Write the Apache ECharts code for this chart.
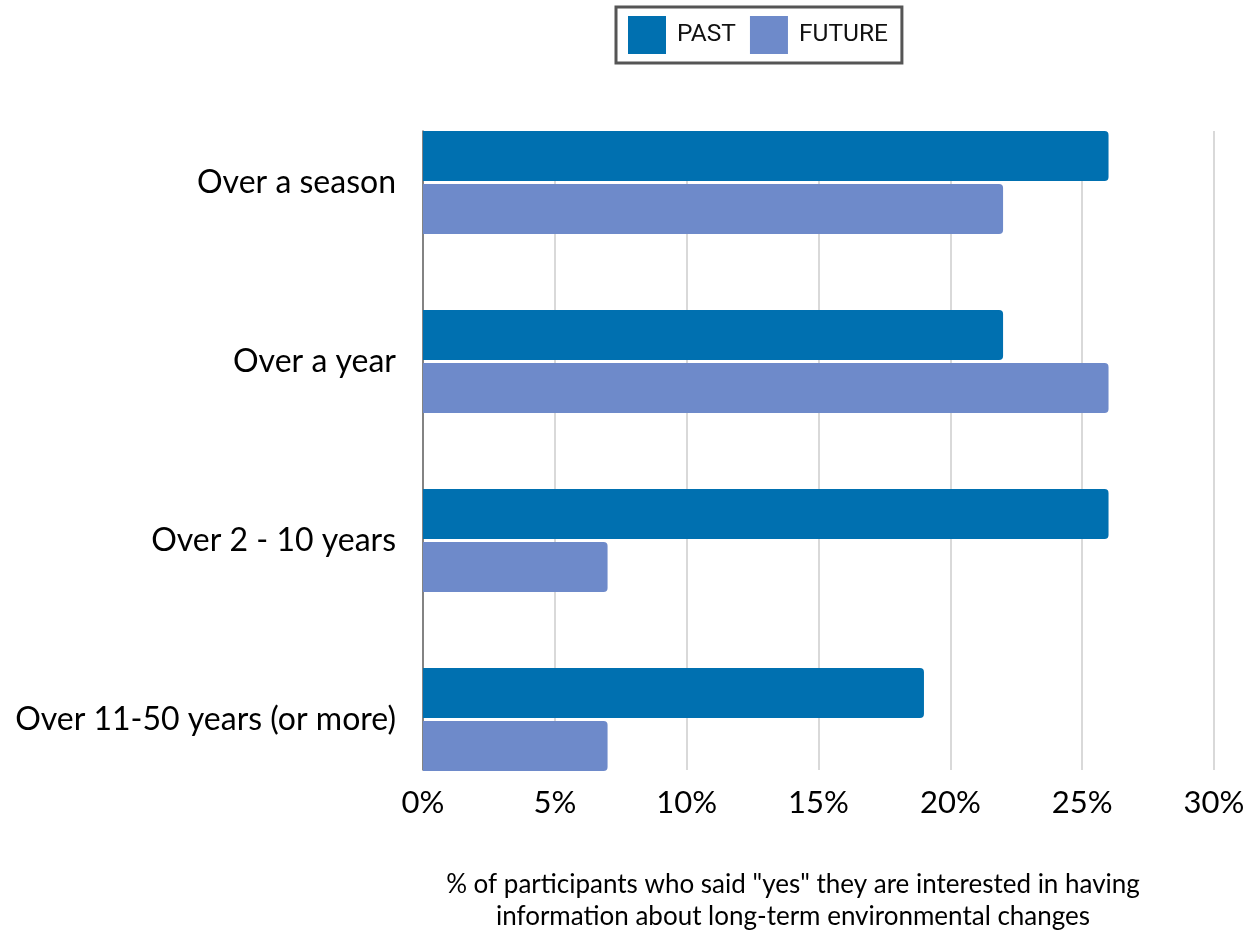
<!DOCTYPE html>
<html>
<head>
<meta charset="utf-8">
<style>
  html, body { margin: 0; padding: 0; background: #ffffff; }
  #chart { width: 1258px; height: 931px; }
</style>
<script src="https://cdn.jsdelivr.net/npm/echarts@6/dist/echarts.min.js"></script>
</head>
<body>
<div id="chart"></div>
<script>
// Share of participants interested in long-term environmental information, by time span
const categories = ['Over a season', 'Over a year', 'Over 2 - 10 years', 'Over 11-50 years (or more)'];
const pastValues = [26, 22, 26, 19];
const futureValues = [22, 26, 7, 7];
const seriesNames = ['PAST', 'FUTURE'];
const axisTitle = '% of participants who said "yes" they are interested in having\ninformation about long-term environmental changes';

const PAST_COLOR = '#0070b0';
const FUTURE_COLOR = '#6e8aca';
const LABEL_FONT = 'Lato';

const chart = echarts.init(document.getElementById('chart'), null, { renderer: 'canvas' });

chart.setOption({
  animation: false,
  backgroundColor: '#ffffff',
  title: {
    text: axisTitle,
    left: 788,
    top: 864,
    textAlign: 'center',
    textStyle: {
      fontFamily: LABEL_FONT,
      fontSize: 26,
      fontWeight: 'normal',
      color: '#000',
      lineHeight: 32,
      align: 'center'
    }
  },
  legend: {
    data: seriesNames,
    top: 7,
    left: 616,
    itemWidth: 38,
    itemHeight: 38,
    itemGap: 14,
    padding: [9, 14, 9, 12],
    borderColor: '#555555',
    borderWidth: 3,
    borderRadius: 0,
    icon: 'rect',
    textStyle: {
      fontFamily: 'Roboto',
      fontSize: 24.5,
      color: '#111',
      padding: [0, 0, 0, 6]
    }
  },
  grid: [
    // bars
    { left: 423, right: 44, top: 93, height: 716, containLabel: false },
    // gridlines, left axis line and tick labels
    { left: 423, right: 44, top: 131, height: 639, containLabel: false }
  ],
  xAxis: [
    {
      gridIndex: 0, type: 'value', min: 0, max: 30, interval: 5,
      axisLine: { show: false }, axisTick: { show: false },
      axisLabel: { show: false }, splitLine: { show: false }
    },
    {
      gridIndex: 1, type: 'value', min: 0, max: 30, interval: 5,
      axisLine: { show: false }, axisTick: { show: false },
      axisLabel: {
        formatter: '{value}%',
        fontFamily: LABEL_FONT,
        fontSize: 31,
        color: '#000',
        margin: 17
      },
      splitLine: { show: true, lineStyle: { color: '#cccccc', width: 1.5 } }
    }
  ],
  yAxis: [
    {
      gridIndex: 0, type: 'category', data: categories, inverse: true,
      axisLine: { show: false }, axisTick: { show: false },
      axisLabel: {
        fontFamily: LABEL_FONT,
        fontSize: 32,
        color: '#000',
        margin: 27
      }
    },
    {
      gridIndex: 1, type: 'value', min: 0, max: 1,
      axisLine: { show: true, lineStyle: { color: '#666666', width: 1.5 } },
      axisTick: { show: false }, axisLabel: { show: false },
      splitLine: { show: false }
    }
  ],
  series: [
    {
      name: seriesNames[0], type: 'bar', xAxisIndex: 0, yAxisIndex: 0,
      data: pastValues, barWidth: 50, barGap: '6%',
      itemStyle: { color: PAST_COLOR, borderRadius: [0, 4, 4, 0] },
      z: 3
    },
    {
      name: seriesNames[1], type: 'bar', xAxisIndex: 0, yAxisIndex: 0,
      data: futureValues, barWidth: 50, barGap: '6%',
      itemStyle: { color: FUTURE_COLOR, borderRadius: [0, 4, 4, 0] },
      z: 3
    }
  ]
});
</script>
</body>
</html>
